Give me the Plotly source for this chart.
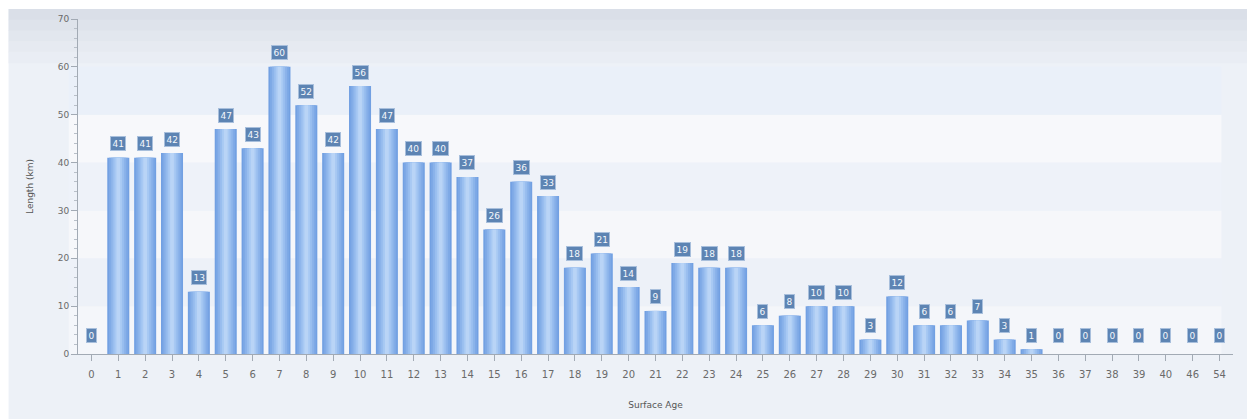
import plotly.graph_objects as go

# Surface age classes and the total length (km) for each
ages = ["0", "1", "2", "3", "4", "5", "6", "7", "8", "9", "10", "11", "12", "13",
        "14", "15", "16", "17", "18", "19", "20", "21", "22", "23", "24", "25",
        "26", "27", "28", "29", "30", "31", "32", "33", "34", "35", "36", "37",
        "38", "39", "40", "46", "54"]
lengths = [0, 41, 41, 42, 13, 47, 43, 60, 52, 42, 56, 47, 40, 40, 37, 26, 36, 33,
           18, 21, 14, 9, 19, 18, 18, 6, 8, 10, 10, 3, 12, 6, 6, 7, 3, 1, 0, 0,
           0, 0, 0, 0, 0]
y_ticks = [0, 10, 20, 30, 40, 50, 60, 70]

FONT = "DejaVu Sans"

fig = go.Figure()

# Layered bars of decreasing width give each column a soft cylindrical shading
layers = [
    (0.82, "#72a0e2"),
    (0.70, "#7ea9e6"),
    (0.56, "#8bb3ea"),
    (0.42, "#99beef"),
    (0.28, "#a8c9f3"),
    (0.14, "#b9d4f6"),
]
for w, c in layers:
    fig.add_trace(go.Bar(
        x=ages, y=lengths, width=w,
        marker=dict(color=c, line=dict(width=0)),
        hoverinfo="skip" if w < 0.82 else None,
        showlegend=False,
    ))

# Value badges above each bar (x given as category index)
for i, v in enumerate(lengths):
    fig.add_annotation(
        x=i, y=v, text=str(v), showarrow=False,
        yanchor="middle", yshift=14 if v > 0 else 19,
        font=dict(family=FONT, size=9, color="#f4f7fb"),
        bgcolor="#5d84b3", bordercolor="#a8bfdc", borderwidth=1, borderpad=1.5,
    )

# Panel background and soft horizontal bands
shapes = [dict(type="rect", xref="paper", yref="paper",
               x0=-0.0601, x1=1.02, y0=-0.2, y1=1.0299,
               fillcolor="#edf1f7", line=dict(width=0), layer="below")]
top_strips = ["#dadfe8", "#dee3eb", "#e2e7ee", "#e6eaf1", "#e9edf4"]
n = len(top_strips)
for i, c in enumerate(top_strips):
    y1 = 1.0299 - i * (0.16 / n)
    shapes.append(dict(type="rect", xref="paper", yref="paper",
                       x0=-0.0601, x1=1.02, y0=y1 - 0.16 / n - 0.002, y1=y1,
                       fillcolor=c, line=dict(width=0), layer="below"))
band_colors = ["#f4f6fa", "#edf1f8", "#f6f7fa", "#eef2f9", "#f7f8fb", "#eaf0f9"]
for i, c in enumerate(band_colors):
    shapes.append(dict(type="rect", xref="paper", yref="y",
                       x0=-0.008, x1=0.99, y0=y_ticks[i], y1=y_ticks[i + 1],
                       fillcolor=c, line=dict(width=0), layer="below"))

fig.update_layout(
    width=1247, height=419,
    margin=dict(l=77.5, r=13.5, t=19, b=65),
    paper_bgcolor="#ffffff",
    plot_bgcolor="rgba(0,0,0,0)",
    barmode="overlay",
    shapes=shapes,
    font=dict(family=FONT, size=9, color="#666666"),
    xaxis=dict(
        type="category", categoryorder="array", categoryarray=ages,
        range=[-0.5, len(ages) - 0.5],
        showline=True, linecolor="#a2aab4", linewidth=1,
        ticks="outside", ticklen=6, tickcolor="#a2aab4",
        ticklabelstandoff=5,
        tickfont=dict(family=FONT, size=10, color="#6a6a6a"),
        showgrid=False, zeroline=False,
        title=dict(text="Surface Age", standoff=22,
                   font=dict(family=FONT, size=9, color="#555555")),
    ),
    yaxis=dict(
        range=[0, 70], tickvals=y_ticks,
        showline=True, linecolor="#a2aab4", linewidth=1,
        ticks="outside", ticklen=6, tickcolor="#a2aab4",
        minor=dict(dtick=2, ticks="outside", ticklen=3, tickcolor="#b8bfc8"),
        tickfont=dict(family=FONT, size=9, color="#6a6a6a"),
        showgrid=False, zeroline=False,
        title=dict(text="Length (km)", standoff=22,
                   font=dict(family=FONT, size=9, color="#555555")),
    ),
)

fig.write_html("out.html")
